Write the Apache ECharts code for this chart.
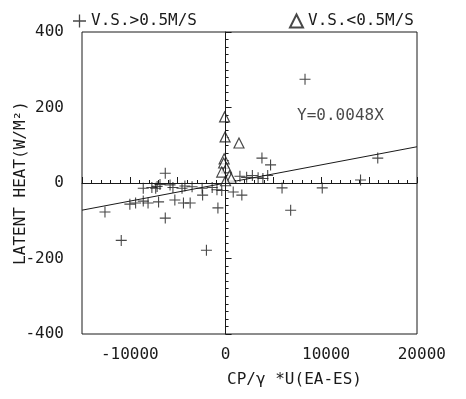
<!DOCTYPE html>
<html><head><meta charset="utf-8">
<script src="https://cdn.jsdelivr.net/npm/echarts@6/dist/echarts.min.js"></script>
<style>html,body{margin:0;padding:0;background:#fff}#c{width:466px;height:399px}</style>
</head><body><div id="c"></div>
<script>
// ---- data ----
const xTickLabels = [-10000, 0, 10000, 20000];
const yTickLabels = [-400, -200, 0, 200, 400];
const seriesNames = ['V.S.>0.5M/S', 'V.S.<0.5M/S'];
// wind speed > 0.5 m/s  (plus markers)  [x, latent heat]
const highWind = [
  [-12600,-77],[-10900,-152],[-10000,-56],[-9400,-53],[-8600,-48],[-8100,-53],
  [-8600,-14],[-7300,-14],[-7700,-12],[-7000,-50],[-7150,-9],[-6850,-4],
  [-6300,26],[-6300,-93],[-5800,-5],[-5500,-12],[-5300,-45],[-4550,-14],
  [-4400,-53],[-4250,-8],[-3700,-53],[-3500,-10],[-2450,-14],[-2400,-32],
  [-1400,-12],[-900,-18],[-800,-66],[-2000,-178],[-400,-20],
  [800,-24],[1700,-32],[1500,18],[2200,15],[2800,20],[3400,14],[3900,12],
  [4400,20],[3800,66],[4700,48],[5900,-13],[6800,-72],[8300,275],
  [10100,-13],[14100,8],[15900,66]
];
// wind speed < 0.5 m/s  (triangle markers)
const lowWind = [
  [-100,175],[-50,122],[1400,106],[-150,64],[-200,53],[100,40],
  [-400,29],[400,19],[600,12],[0,6]
];
const fitSlope = 0.0048;
const fitXRange = [-15000, 20000];
const fitLabel = 'Y=0.0048X';
const fitLabelAt = [12000, 177];
const xAxisName = 'CP/\u03b3 *U(EA-ES)';
const yAxisName = 'LATENT HEAT(W/M\u00b2)';

// ---- chart ----
const FONT = 'DejaVu Sans Mono';
const INK = '#1a1a1a';
const PLUS = 'path://M4.5,0H5.5V4.5H10V5.5H5.5V10H4.5V5.5H0V4.5H4.5Z';
const txt = {fontFamily: FONT, fontSize: 16, color: INK};

const chart = echarts.init(document.getElementById('c'), null, {renderer: 'canvas'});
chart.setOption({
  animation: false,
  backgroundColor: '#fff',
  grid: {left: 82, right: 49, top: 32, bottom: 65, show: true, borderColor: INK, borderWidth: 1,
         containLabel: false, outerBoundsMode: 'none'},
  legend: [
    {data: [seriesNames[0]], left: 68, top: 8, itemWidth: 13, itemHeight: 13, textStyle: txt},
    {data: [seriesNames[1]], left: 284, top: 8, itemWidth: 13, itemHeight: 13, textStyle: txt}
  ],
  xAxis: {
    type: 'value', min: fitXRange[0], max: fitXRange[1], interval: 5000,
    axisLine: {lineStyle: {color: INK}},
    axisTick: {inside: true, length: 6, lineStyle: {color: INK}},
    minorTick: {show: true, splitNumber: 5, length: 3, lineStyle: {color: INK}},
    splitLine: {show: false},
    axisLabel: Object.assign({
      margin: 13, showMaxLabel: true, showMinLabel: true,
      formatter: v => xTickLabels.includes(v) ? (v > 0 ? ' ' + v : String(v)) : ''
    }, txt),
    name: xAxisName, nameLocation: 'middle', nameGap: 38, nameMoveOverlap: false,
    nameTextStyle: Object.assign({padding: [0, 0, 0, 90]}, txt)
  },
  yAxis: {
    type: 'value', min: yTickLabels[0], max: yTickLabels[yTickLabels.length - 1], interval: 200,
    axisLine: {lineStyle: {color: INK}},
    axisTick: {inside: true, length: 6, lineStyle: {color: INK}},
    minorTick: {show: true, splitNumber: 10, length: 3, lineStyle: {color: INK}},
    splitLine: {show: false},
    axisLabel: Object.assign({margin: 18}, txt),
    name: yAxisName, nameLocation: 'middle', nameGap: 53, nameRotate: 90, nameMoveOverlap: false,
    nameTextStyle: txt
  },
  series: [
    {
      name: seriesNames[0], type: 'scatter', symbol: PLUS, symbolSize: 11,
      itemStyle: {color: INK}, data: highWind, z: 3
    },
    {
      name: seriesNames[1], type: 'scatter', symbol: 'triangle', symbolSize: 10,
      itemStyle: {color: '#fff', borderColor: INK, borderWidth: 1.2}, data: lowWind, z: 4
    },
    {
      name: 'fit', type: 'line', symbol: 'none', silent: true,
      lineStyle: {color: INK, width: 1},
      data: fitXRange.map(x => [x, fitSlope * x]),
      markLine: {
        silent: true, symbol: ['none', 'none'], label: {show: false},
        lineStyle: {color: INK, width: 1, type: 'solid'},
        data: [{yAxis: 0}, {xAxis: 0}]
      }
    },
    {
      name: 'fitlabel', type: 'scatter', symbolSize: 0, silent: true,
      data: [fitLabelAt],
      label: Object.assign({show: true, position: 'inside', formatter: fitLabel}, txt)
    }
  ]
});
</script>
</body></html>
